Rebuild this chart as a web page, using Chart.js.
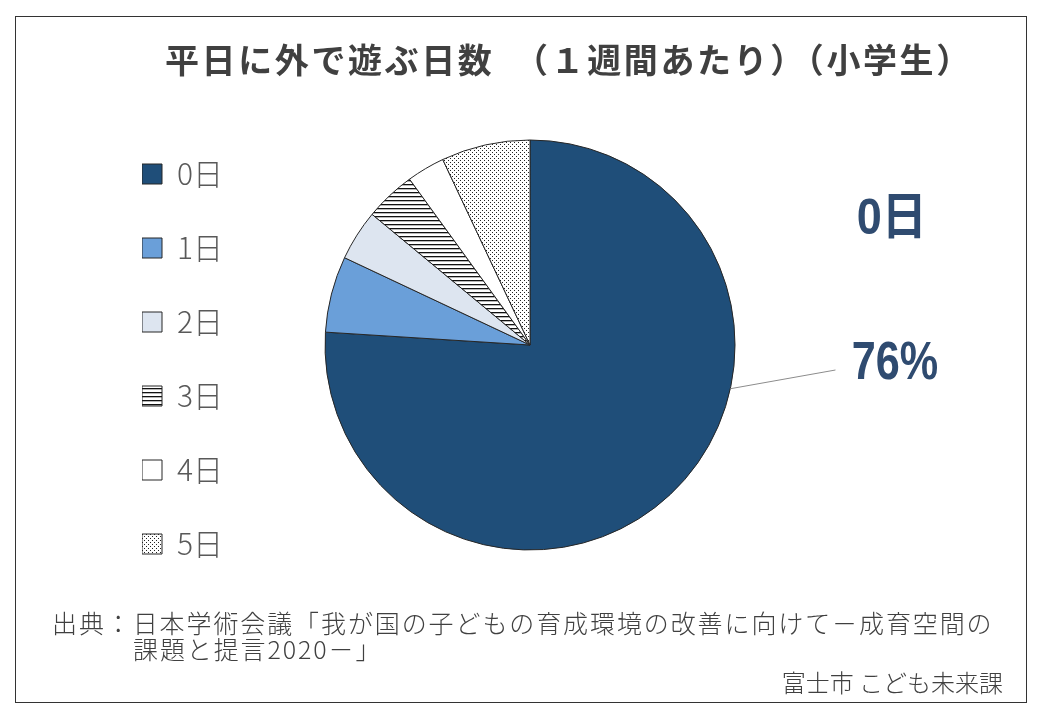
<!DOCTYPE html>
<html><head><meta charset="utf-8">
<script src="https://cdn.jsdelivr.net/npm/chart.js@4.4.0/dist/chart.umd.min.js"></script>
<style>
html,body{margin:0;padding:0;width:1040px;height:720px;overflow:hidden;background:#fff;font-family:"Noto Sans CJK JP",sans-serif;}
#frame{position:absolute;left:15px;top:16px;width:1012px;height:687px;border:1.5px solid #333;box-sizing:border-box;}
#c{position:absolute;left:0;top:0;}
#title{position:absolute;left:165px;top:35px;font-size:34px;font-weight:bold;color:#404040;line-height:48px;letter-spacing:2.6px;white-space:nowrap;}
#src{position:absolute;left:52px;top:609px;font-size:25px;font-weight:300;color:#404040;line-height:26px;letter-spacing:1.9px;white-space:nowrap;}
#src .l2{padding-left:81px;}
#credit{position:absolute;right:37px;top:668px;font-size:24px;font-weight:300;color:#404040;line-height:28px;white-space:nowrap;}
</style></head>
<body>
<div id="frame"></div>
<canvas id="c" width="1040" height="720"></canvas>
<div id="title">平日に外で遊ぶ日数　（１週間あたり）（小学生）</div>
<div id="src">出典：日本学術会議「我が国の子どもの育成環境の改善に向けて－成育空間の<br><span class="l2">課題と提言2020－」</span></div>
<div id="credit">富士市 こども未来課</div>
<script>
const categories = ['0日', '1日', '2日', '3日', '4日', '5日'];
const values = [76, 6, 4, 4, 3, 7];

function stripePattern() {
  const p = document.createElement('canvas'); p.width = 4; p.height = 4;
  const g = p.getContext('2d');
  g.fillStyle = '#fff'; g.fillRect(0, 0, 4, 4);
  g.fillStyle = '#111'; g.fillRect(0, 0, 4, 1.3);
  return g.createPattern(p, 'repeat');
}
function dotPattern() {
  const p = document.createElement('canvas'); p.width = 4; p.height = 4;
  const g = p.getContext('2d');
  g.fillStyle = '#fff'; g.fillRect(0, 0, 4, 4);
  g.fillStyle = '#222'; g.fillRect(0, 0, 1, 1); g.fillRect(2, 2, 1, 1);
  return g.createPattern(p, 'repeat');
}
const ctx0 = document.getElementById('c').getContext('2d');
const fills = ['#1F4E79', '#6A9FD9', '#DDE5F0', stripePattern(), '#FFFFFF', dotPattern()];

const sliceLabel = {
  id: 'sliceLabel',
  afterDatasetsDraw(chart) {
    const arc = chart.getDatasetMeta(0).data[0];
    const {x, y, outerRadius: r} = arc.getProps(['x', 'y', 'outerRadius'], true);
    const ctx = chart.ctx;
    const total = values.reduce((a, b) => a + b, 0);
    const pct = Math.round(values[0] / total * 100) + '%';
    ctx.save();
    const a = 0.215;
    ctx.strokeStyle = '#8c8c8c'; ctx.lineWidth = 1;
    ctx.beginPath();
    ctx.moveTo(x + r * Math.cos(a), y + r * Math.sin(a));
    ctx.lineTo(x + r * 1.49, y + r * 0.122);
    ctx.stroke();
    ctx.fillStyle = '#2F4B70';
    ctx.textAlign = 'center'; ctx.textBaseline = 'middle';
    ctx.save();
    ctx.translate(x + r * 1.765, y - r * 0.61);
    ctx.scale(0.9, 1);
    ctx.font = "bold 50px 'Liberation Sans', 'Noto Sans CJK JP', sans-serif";
    ctx.fillText(categories[0], 0, 0);
    ctx.restore();
    ctx.save();
    ctx.translate(x + r * 1.78, y + r * 0.093);
    ctx.scale(0.8, 1);
    ctx.font = "bold 54px 'Liberation Sans', 'Noto Sans CJK JP', sans-serif";
    ctx.fillText(pct, 0, 0);
    ctx.restore();
    ctx.restore();
  }
};

new Chart(ctx0, {
  type: 'pie',
  data: {
    labels: categories,
    datasets: [{
      data: values,
      backgroundColor: fills,
      borderColor: '#262626',
      borderWidth: 1,
      radius: 205
    }]
  },
  options: {
    responsive: false,
    animation: false,
    devicePixelRatio: 1,
    layout: {padding: {left: 142, right: 213, top: 87, bottom: 117}},
    plugins: {
      tooltip: {enabled: false},
      legend: {
        position: 'left',
        align: 'end',
        labels: {
          boxWidth: 20,
          boxHeight: 20,
          padding: 0,
          color: '#595959',
          font: {family: "'Noto Sans CJK JP', sans-serif", size: 30, weight: 300, lineHeight: 74 / 30},
          generateLabels(chart) {
            const items = Chart.overrides.pie.plugins.legend.labels.generateLabels(chart);
            return items.map(it => Object.assign(it, {text: [it.text]}));
          }
        }
      }
    }
  },
  plugins: [sliceLabel]
});
</script>
</body></html>
